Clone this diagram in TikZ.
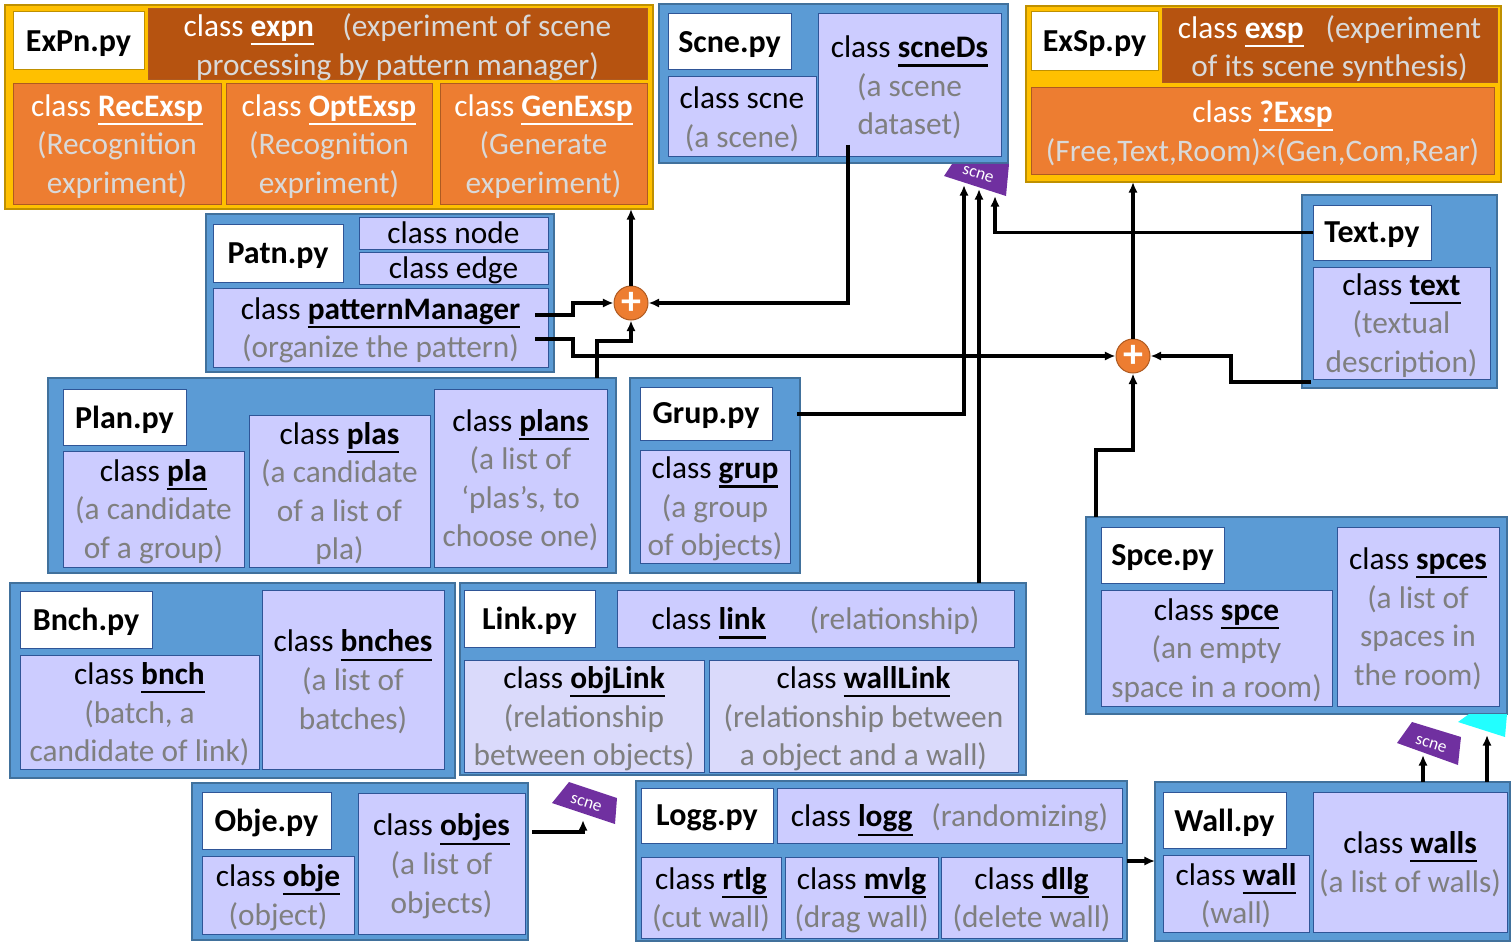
\documentclass[tikz,border=0pt]{standalone}
\usepackage{fontspec}
\setmainfont{Carlito}
\usepackage{xcolor}
\usetikzlibrary{arrows.meta, positioning}

\definecolor{grpblue}{HTML}{5B9BD5}
\definecolor{grpline}{HTML}{41719C}
\definecolor{lav}{HTML}{CCCCFF}
\definecolor{lavlight}{HTML}{DADAFB}
\definecolor{boxline}{HTML}{2F5597}
\definecolor{gold}{HTML}{FFC000}
\definecolor{goldline}{HTML}{BF9000}
\definecolor{rust}{HTML}{B65310}
\definecolor{orng}{HTML}{ED7D31}
\definecolor{orngline}{HTML}{AE5A21}
\definecolor{descgray}{HTML}{7F7F7F}
\definecolor{desclight}{HTML}{D9D9D9}
\definecolor{tagpurple}{HTML}{7030A0}
\definecolor{tagcyan}{HTML}{22FFFF}

\newcommand{\cn}[1]{\setbox0=\hbox{\bfseries #1}\rlap{\rule[-6.5pt]{\wd0}{1.6pt}}\box0}
\newcommand{\ds}[1]{\textcolor{descgray}{#1}}
\newcommand{\dl}[1]{\textcolor{desclight}{#1}}

\begin{document}
\begin{tikzpicture}[
    x=0.75pt, y=-0.75pt,
    >={Latex[length=8pt,width=7pt]},
    box/.style n args={4}{anchor=north west, at={(#1,#2)}, minimum width={(#3-#1)*0.75pt}, minimum height={(#4-#2)*0.75pt}, inner sep=0pt, outer sep=0pt},
    group/.style={rectangle, draw=grpline, line width=1pt, fill=grpblue},
    expgroup/.style={rectangle, draw=goldline, line width=1pt, fill=gold},
    title/.style={rectangle, draw=boxline, line width=0.75pt, fill=white, text depth=0pt, font=\fontsize{24}{28.9}\selectfont\bfseries},
    exptitle/.style={title, draw=goldline},
    cls/.style={rectangle, draw=boxline, line width=0.75pt, fill=lav, align=center, text depth=0pt, font=\fontsize{23.5}{28.9}\selectfont},
    clslight/.style={cls, fill=lavlight},
    expcls/.style={cls, draw=orngline, fill=orng, text=white},
    expmain/.style={expcls, fill=rust},
    plus/.style={circle, draw=orngline, line width=0.75pt, fill=orng, text=white, minimum size=25.5pt, inner sep=0pt, font=\fontsize{30}{30}\selectfont\bfseries},
    tagtxt/.style={text=white, inner sep=0pt, font=\fontsize{13}{13}\selectfont},
    wire/.style={line width=2.4pt, ->}
]
\useasboundingbox (0,0) rectangle (1512,945);

\node (gExPn) [expgroup, box={5}{5}{653}{209}] {};
\node (tExPn) [exptitle, box={13}{12}{144}{70}] {ExPn.py};
\node (expn) [expmain, box={148}{9}{647}{80}] {class \cn{expn}\hspace{0.9em}\dl{(experiment of scene}\\\dl{processing by pattern manager)}};
\node (recExsp) [expcls, box={13}{84}{221}{204}] {class \cn{RecExsp}\\\dl{(Recognition}\\\dl{expriment)}};
\node (optExsp) [expcls, box={226}{84}{432}{204}] {class \cn{OptExsp}\\\dl{(Recognition}\\\dl{expriment)}};
\node (genExsp) [expcls, box={440}{84}{647}{204}] {class \cn{GenExsp}\\\dl{(Generate}\\\dl{experiment)}};

\node (gScne) [group, box={659}{4}{1008}{163}] {};
\node (tScne) [title, box={668}{14}{791}{70}] {Scne.py};
\node (scne) [cls, box={668}{77}{816}{157}] {class scne\\\ds{(a scene)}};
\node (scneDs) [cls, box={818}{14}{1001}{157}] {class \cn{scneDs}\\\ds{(a scene}\\\ds{dataset)}};

\node (gExSp) [expgroup, box={1026}{6}{1501}{182}] {};
\node (tExSp) [exptitle, box={1031}{12}{1158}{71}] {ExSp.py};
\node (exsp) [expmain, box={1162}{9}{1497}{83}] {class \cn{exsp}\hspace{0.7em}\dl{(experiment}\\\dl{of its scene synthesis)}};
\node (qExsp) [expcls, box={1031}{88}{1494}{174}] {class \cn{?Exsp}\\\dl{(Free,Text,Room)×(Gen,Com,Rear)}};

\node (gText) [group, box={1302}{195}{1497}{388}] {};
\node (tText) [title, box={1313}{205}{1431}{260}] {Text.py};
\node (txtCls) [cls, box={1313}{267}{1490}{379}] {class \cn{text}\\\ds{(textual}\\\ds{description)}};

\node (gPatn) [group, box={206}{214}{554}{372}] {};
\node (tPatn) [title, box={213}{224}{343}{282}] {Patn.py};
\node (nodeCls) [cls, box={359}{217}{548}{249}] {class node};
\node (edgeCls) [cls, box={359}{252}{548}{284}] {class edge};
\node (pm) [cls, box={213}{288}{548}{367}] {class \cn{patternManager}\\\ds{(organize the pattern)}};

\node (gPlan) [group, box={48}{378}{616}{573}] {};
\node (tPlan) [title, box={63}{389}{186}{445}] {Plan.py};
\node (pla) [cls, box={63}{451}{244}{567}] {class \cn{pla}\\\ds{(a candidate}\\\ds{of a group)}};
\node (plas) [cls, box={249}{415}{430}{567}] {class \cn{plas}\\\ds{(a candidate}\\\ds{of a list of}\\\ds{pla)}};
\node (plans) [cls, box={434}{389}{607}{567}] {class \cn{plans}\\\ds{(a list of}\\\ds{‘plas’s, to}\\\ds{choose one)}};

\node (gGrup) [group, box={630}{378}{800}{573}] {};
\node (tGrup) [title, box={640}{387}{772}{440}] {Grup.py};
\node (grup) [cls, box={640}{450}{790}{563}] {class \cn{grup}\\\ds{(a group}\\\ds{of objects)}};

\node (gBnch) [group, box={10}{583}{455}{778}] {};
\node (tBnch) [title, box={20}{591}{152}{648}] {Bnch.py};
\node (bnch) [cls, box={20}{655}{259}{769}] {class \cn{bnch}\\\ds{(batch, a}\\\ds{candidate of link)}};
\node (bnches) [cls, box={262}{590}{444}{769}] {class \cn{bnches}\\\ds{(a list of}\\\ds{batches)}};

\node (gLink) [group, box={460}{583}{1026}{775}] {};
\node (tLink) [title, box={464}{590}{595}{647}] {Link.py};
\node (linkCls) [cls, box={617}{590}{1014}{647}] {class \cn{link}\hspace{1.4em}\ds{(relationship)}};
\node (objLink) [clslight, box={464}{660}{704}{772}] {class \cn{objLink}\\\ds{(relationship}\\\ds{between objects)}};
\node (wallLink) [clslight, box={709}{660}{1018}{772}] {class \cn{wallLink}\\\ds{(relationship between}\\\ds{a object and a wall)}};

\node (gSpce) [group, box={1086}{517}{1507}{714}] {};
\node (tSpce) [title, box={1101}{527}{1224}{583}] {Spce.py};
\node (spce) [cls, box={1101}{590}{1332}{706}] {class \cn{spce}\\\ds{(an empty}\\\ds{space in a room)}};
\node (spces) [cls, box={1337}{527}{1499}{706}] {class \cn{spces}\\\ds{(a list of}\\\ds{spaces in}\\\ds{the room)}};

\node (gObje) [group, box={192}{783}{528}{940}] {};
\node (tObje) [title, box={202}{792}{331}{849}] {Obje.py};
\node (obje) [cls, box={202}{856}{354}{934}] {class \cn{obje}\\\ds{(object)}};
\node (objes) [cls, box={358}{793}{525}{934}] {class \cn{objes}\\\ds{(a list of}\\\ds{objects)}};

\node (gLogg) [group, box={636}{781}{1127}{941}] {};
\node (tLogg) [title, box={641}{788}{773}{843}] {Logg.py};
\node (logg) [cls, box={777}{788}{1122}{843}] {class \cn{logg}\hspace{0.6em}\ds{(randomizing)}};
\node (rtlg) [cls, box={641}{857}{781}{938}] {class \cn{rtlg}\\\ds{(cut wall)}};
\node (mvlg) [cls, box={785}{857}{938}{938}] {class \cn{mvlg}\\\ds{(drag wall)}};
\node (dllg) [cls, box={941}{857}{1122}{938}] {class \cn{dllg}\\\ds{(delete wall)}};

\node (gWall) [group, box={1155}{782}{1510}{941}] {};
\node (tWall) [title, box={1163}{792}{1286}{848}] {Wall.py};
\node (wallCls) [cls, box={1163}{855}{1309}{932}] {class \cn{wall}\\\ds{(wall)}};
\node (walls) [cls, box={1313}{792}{1507}{932}] {class \cn{walls}\\\ds{(a list of walls)}};

\node (plusA) [plus] at (631,303) {+};
\node (plusB) [plus] at (1133,356) {+};

\fill[tagpurple] (944,176) -- (952,164) -- (1009,164) -- (1006,196) -- cycle;
\node (tagScne) [tagtxt, rotate=-18] at (978,174) {scne};
\fill[tagpurple] (1397,743) -- (1412,722) -- (1461,737) -- (1458,765) -- cycle;
\node (tagSpce) [tagtxt, rotate=-18] at (1431,744) {scne};
\fill[tagcyan] (1458,722) -- (1469,714) -- (1507,714) -- (1505,737) -- cycle;
\fill[tagpurple] (552,803) -- (569,782) -- (617,798) -- (615,824) -- cycle;
\node (tagObje) [tagtxt, rotate=-18] at (586,803) {scne};

\coordinate (dsOut) at (848,145);
\coordinate (pmOutA) at (535,315);
\coordinate (pmOutB) at (535,339);
\coordinate (grOut) at (797,414);
\coordinate (txOut) at (1311,382);
\coordinate (obOut) at (532,832);
\coordinate (tipA) at (964,185);
\coordinate (tipB) at (979,189);
\coordinate (tipC) at (995,196);
\coordinate (tipD) at (583,820);
\coordinate (tipE) at (1423,755);
\coordinate (tipF) at (1487,735);

\draw[wire] (plusA) -- (plusA |- gExPn.south);
\draw[wire] (dsOut) |- (plusA);
\draw[wire] (pmOutA) -- (573,315) |- (plusA);
\draw[wire] (pmOutB) -- (573,339) |- (plusB);
\draw[wire] (gPlan.north -| 597,0) -- (597,341) -| (plusA);
\draw[wire] (grOut) -| (tipA);
\draw[wire] (gLink.north -| tipB) -- (tipB);
\draw[wire] (tText.west) -| (tipC);
\draw[wire] (txOut) -- (1231,382) |- (plusB);
\draw[wire] (plusB) -- (plusB |- gExSp.south);
\draw[wire] (gSpce.north -| 1096,0) -- (1096,450) -| (plusB);
\draw[wire] (obOut) -| (tipD);
\draw[wire] (gLogg.east) -- (gLogg.east -| gWall.west);
\draw[wire] (gWall.north -| tipE) -- (tipE);
\draw[wire] (gWall.north -| tipF) -- (tipF);

\end{tikzpicture}
\end{document}
